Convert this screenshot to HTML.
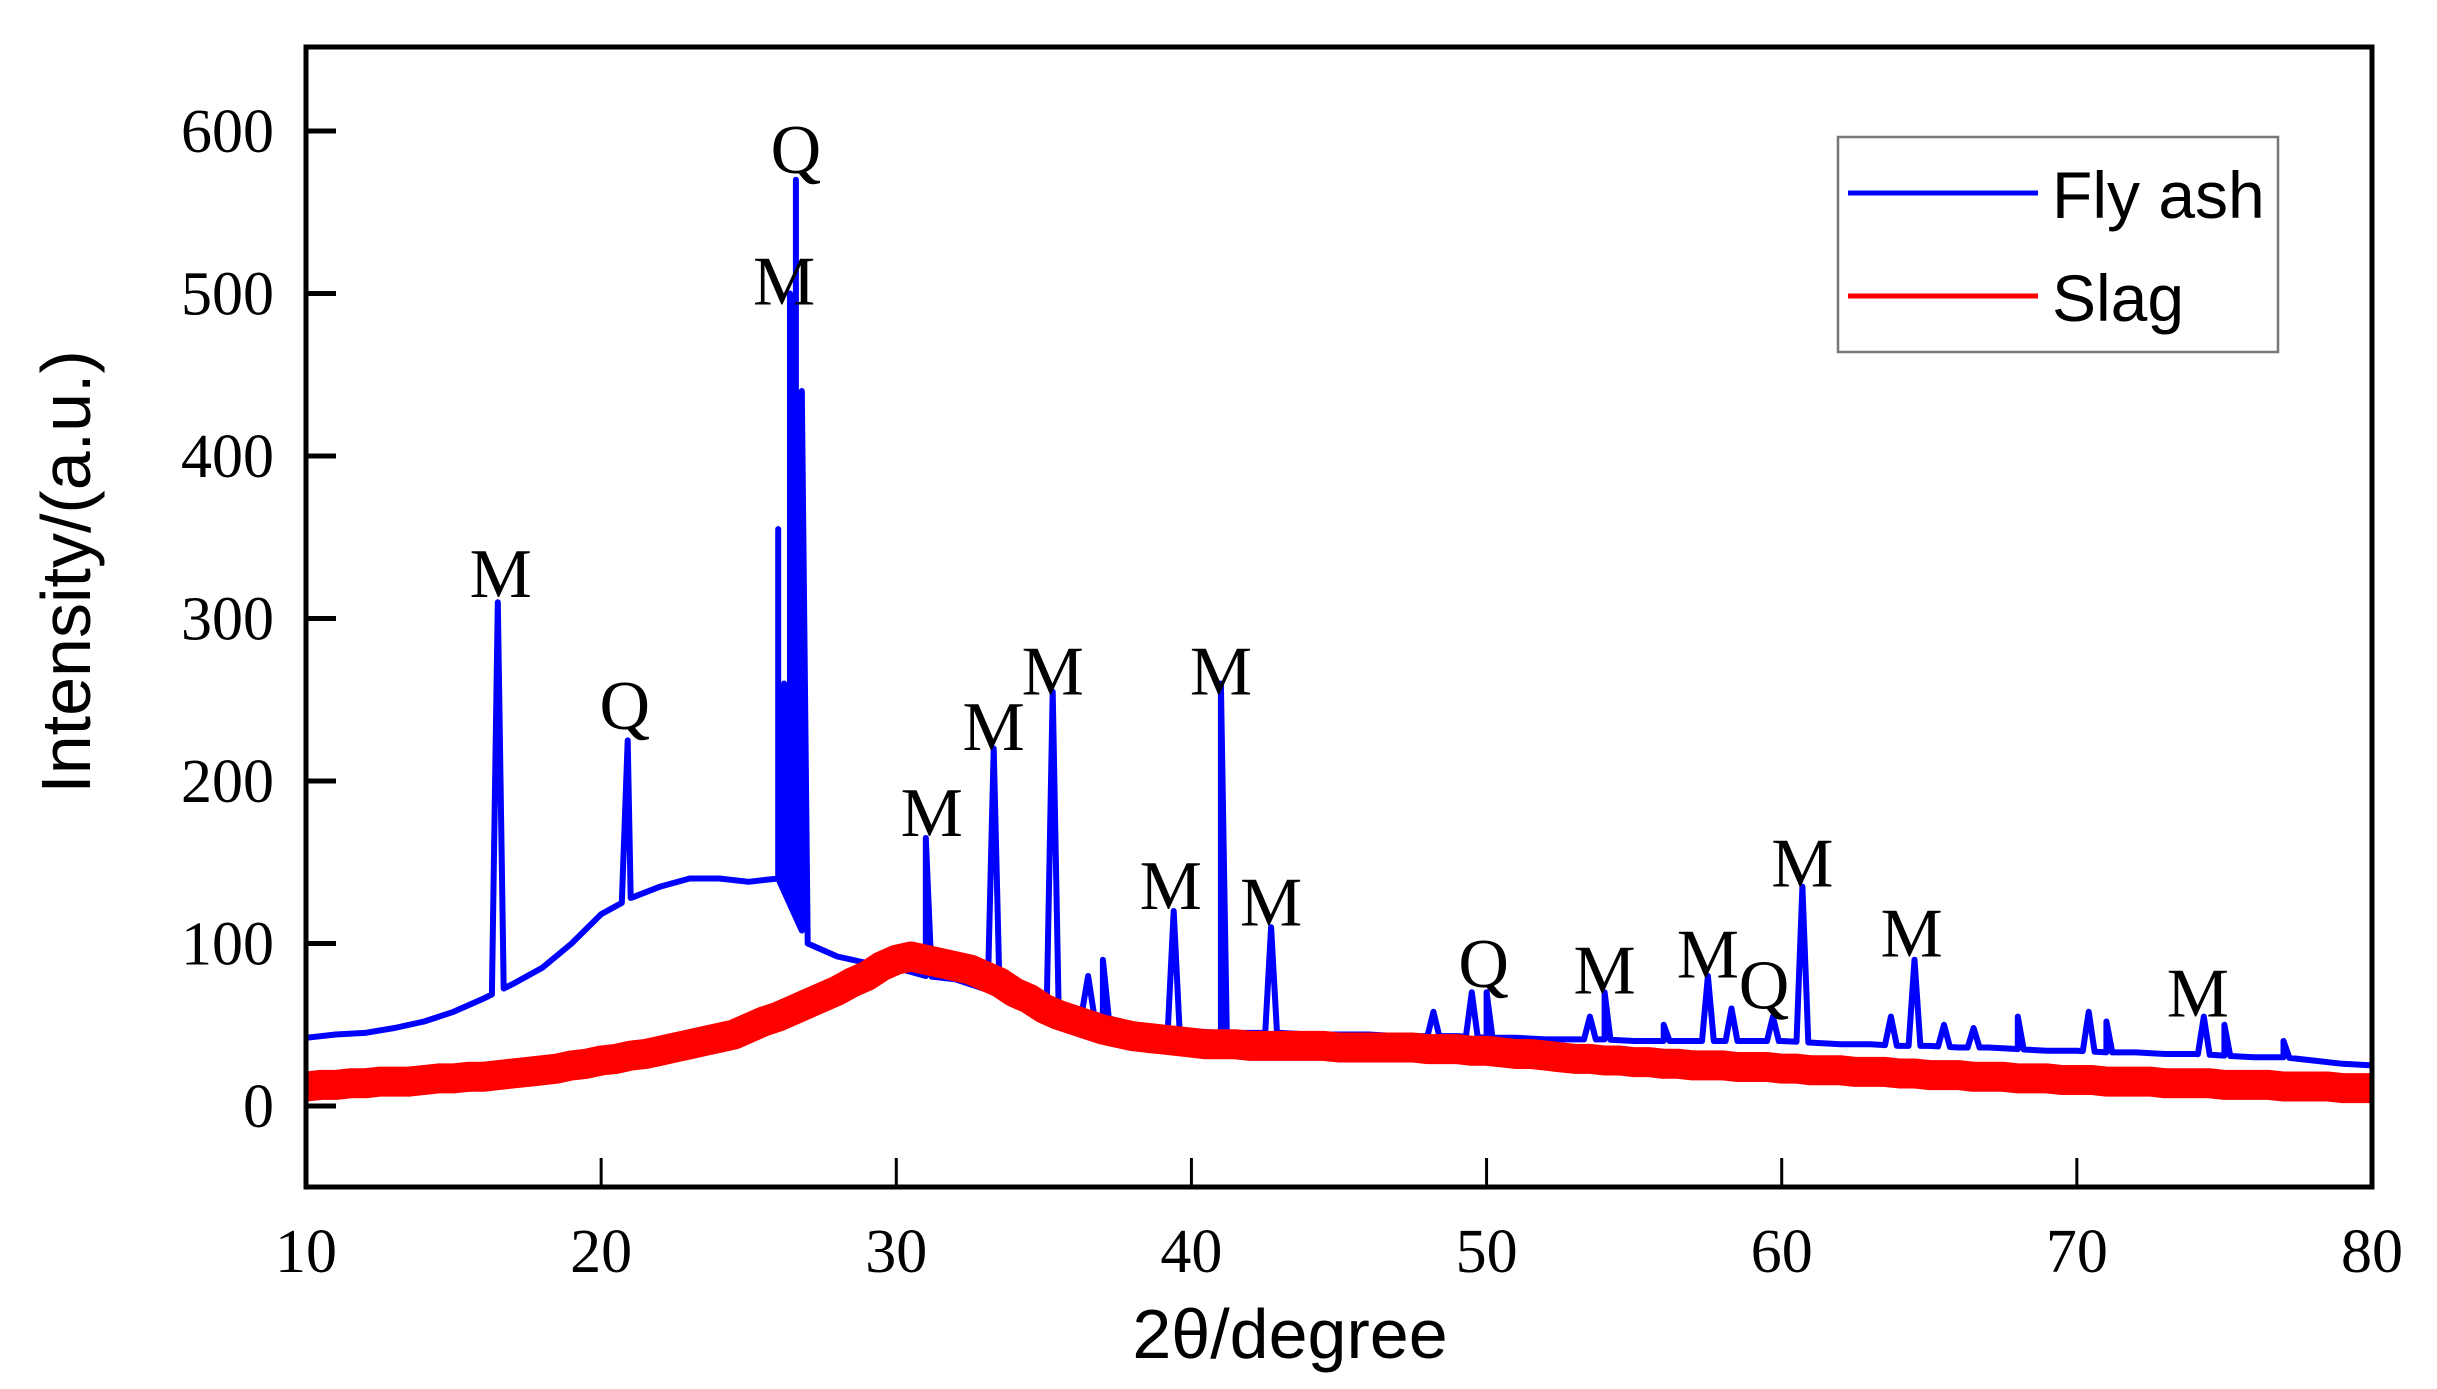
<!DOCTYPE html>
<html><head><meta charset="utf-8"><style>
html,body{margin:0;padding:0;background:#fff;}
svg{display:block;}
</style></head><body>
<svg id="chart" width="2437" height="1389" viewBox="0 0 2437 1389" xmlns="http://www.w3.org/2000/svg">
<g id="plot"></g>
<rect x="306" y="47" width="2066" height="1140" fill="none" stroke="#000" stroke-width="5"/>
<g id="axes"></g>
<text x="1290" y="1358" text-anchor="middle" font-family="Liberation Sans, sans-serif" font-size="70">2θ/degree</text>
<text transform="translate(90,572) rotate(-90)" text-anchor="middle" font-family="Liberation Sans, sans-serif" font-size="70">Intensity/(a.u.)</text>
<g>
<rect x="1838" y="137" width="440" height="215" fill="#fff" stroke="#777" stroke-width="2.5"/>
<line x1="1848" y1="193" x2="2038" y2="193" stroke="#0000ff" stroke-width="5"/>
<text x="2052" y="218" font-family="Liberation Sans, sans-serif" font-size="66">Fly ash</text>
<line x1="1848" y1="296" x2="2038" y2="296" stroke="#ff0000" stroke-width="5"/>
<text x="2052" y="321" font-family="Liberation Sans, sans-serif" font-size="66">Slag</text>
</g>
</svg>
<script>
const xTicks = [10,20,30,40,50,60,70,80];
const yTicks = [0,100,200,300,400,500,600];
// Slag: 10 to 80 in 0.5 degree steps (mean level of noisy band)
const slagStart = 10, slagStep = 0.5;
const slagValues = [
12,13,13,14,14,15,15,15,16,17,
17,18,18,19,20,21,22,23,25,26,
28,29,31,32,34,36,38,40,42,44,
48,52,55,59,63,67,71,76,80,86,
90,92,90,88,86,84,80,76,70,66,
60,56,53,50,47,45,43,42,41,40,
39,38,38,38,37,37,37,37,37,37,
36,36,36,36,36,36,35,35,35,34,
34,33,32,32,31,30,29,29,28,28,
27,27,26,26,25,25,25,24,24,24,
23,23,22,22,22,21,21,21,20,20,
19,19,19,18,18,18,17,17,17,16,
16,16,15,15,15,15,14,14,14,14,
13,13,13,13,12,12,12,12,11,11,
11];
// Fly ash baseline, 1 degree steps 10..80
const flyBaseStart = 10;
const flyBase = [42,44,45,48,52,58,66,75,85,100,118,128,135,140,140,138,140,100,92,88,85,80,78,72,68,64,60,55,50,47,46,45,45,45,44,44,44,43,43,43,42,42,41,41,41,40,40,40,40,40,40,39,38,38,37,37,36,36,35,34,34,33,33,32,32,31,30,30,28,26,25];
const peakPos = [16.5,20.9,26.0,26.2,26.4,26.6,26.8,31.0,33.3,35.3,36.5,37.0,39.4,41.0,42.7,48.2,49.5,50.0,53.5,54.0,56.0,57.5,58.3,59.7,60.7,63.7,64.5,65.5,66.5,68.0,70.4,71.0,74.3,75.0,77.0];
const peakHeight = [310,225,355,260,500,570,440,165,220,255,80,90,120,260,110,58,70,70,55,70,50,80,60,55,135,55,90,50,48,55,58,52,55,50,40];
const labelText = ["M","Q","M","Q","M","M","M","M","M","M","Q","M","M","Q","M","M","M"];
const labelX = [16.6,20.8,26.2,26.6,31.2,33.3,35.3,39.3,41.0,42.7,49.9,54.0,57.5,59.4,60.7,64.4,74.1];
const labelY = [323,242,503,584,176,229,263,131,263,121,83,79,89,70,145,102,65];

const X0=306, X1=2372, Y0=1106, Y600=131;
const sx = v => X0 + (v-10)/70*(X1-X0);
const sy = v => Y0 - v/600*(Y0-Y600);
const NS="http://www.w3.org/2000/svg";
const plot=document.getElementById('plot'), axes=document.getElementById('axes');
function mk(tag,attrs,parent){const e=document.createElementNS(NS,tag);for(const k in attrs)e.setAttribute(k,attrs[k]);parent.appendChild(e);return e;}
function baseAt(x){const i=Math.min(flyBase.length-2,Math.floor(x-flyBaseStart));const t=x-flyBaseStart-i;return flyBase[i]*(1-t)+flyBase[i+1]*t;}

// slag (thick band representing noisy trace)
let pts=slagValues.map((v,i)=>sx(slagStart+i*slagStep).toFixed(1)+','+sy(v).toFixed(1)).join(' ');
const slag=mk('polyline',{points:pts,fill:'none',stroke:'#ff0000','stroke-width':30,'stroke-linejoin':'round','stroke-linecap':'butt'},plot);



// fly ash
let fp=flyBase.map((v,i)=>[flyBaseStart+i,v]);
peakPos.forEach((p,i)=>{fp.push([p-0.2,baseAt(p-0.2)]);fp.push([p,peakHeight[i]]);fp.push([p+0.2,baseAt(p+0.2)]);});
fp.sort((a,b)=>a[0]-b[0]);
const fly=mk('polyline',{points:fp.map(d=>sx(d[0]).toFixed(1)+','+sy(d[1]).toFixed(1)).join(' '),fill:'none',stroke:'#0000ff','stroke-width':6,'stroke-linejoin':'round'},plot);


plot.insertBefore(fly, slag);

// labels
labelText.forEach((t,i)=>{
  const e=mk('text',{x:sx(labelX[i]),y:sy(labelY[i]),'text-anchor':'middle','dominant-baseline':'middle','font-family':'Liberation Serif, serif','font-size':70},plot);
  e.textContent=t;
  
  
});

// ticks
xTicks.forEach(v=>{
  const l=mk('line',{x1:sx(v),x2:sx(v),y1:1187,y2:1158,stroke:'#000','stroke-width':3},axes);
  
  
  const t=mk('text',{x:sx(v),y:1272,'text-anchor':'middle','font-family':'Liberation Serif, serif','font-size':62},axes);
  t.textContent=v;
  
  
});
yTicks.forEach(v=>{
  const l=mk('line',{x1:306,x2:336,y1:sy(v),y2:sy(v),stroke:'#000','stroke-width':5},axes);
  
  
  const t=mk('text',{x:274,y:sy(v)+21,'text-anchor':'end','font-family':'Liberation Serif, serif','font-size':62},axes);
  t.textContent=v;
  
  
});
</script>
</body></html>
